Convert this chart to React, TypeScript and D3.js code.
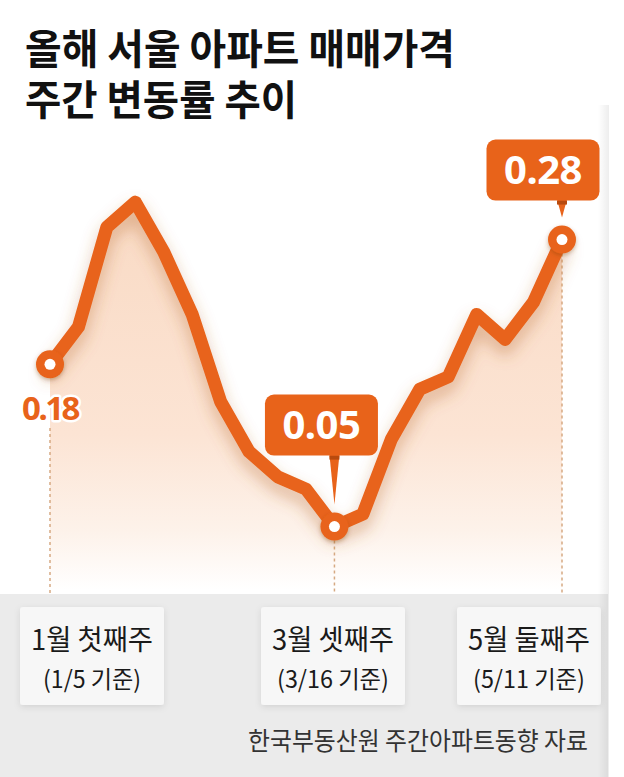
import React from 'react';
import * as d3 from 'd3';

// weekly change of Seoul apartment sale prices (%)
const weeks = ['1/5', '1/12', '1/19', '1/26', '2/2', '2/9', '2/16', '2/23', '3/2', '3/9', '3/16', '3/23', '3/30', '4/6', '4/13', '4/20', '4/27', '5/4', '5/11'];
const changes = [0.18, 0.21, 0.29, 0.31, 0.27, 0.22, 0.15, 0.11, 0.09, 0.08, 0.05, 0.06, 0.12, 0.16, 0.17, 0.22, 0.2, 0.23, 0.28];

const titleLines = ['올해 서울 아파트 매매가격', '주간 변동률 추이'];
const markedWeeks = ['1/5', '3/16', '5/11'];
const weekLabels = ['1월 첫째주', '3월 셋째주', '5월 둘째주'];
const weekSubLabels = ['(1/5 기준)', '(3/16 기준)', '(5/11 기준)'];
const source = '한국부동산원 주간아파트동향 자료';

const W = 624;
const H = 777;
const ORANGE = '#e8631a';
const KR = '"Noto Sans CJK KR", "Noto Sans", sans-serif';

const x = d3.scalePoint<string>().domain(weeks).range([50, 562]);
const y = d3.scaleLinear().domain([0, 0.3]).range([589, 214.6]);

const pts = weeks.map((w, i) => [x(w)!, y(changes[i])] as [number, number]);
const line = d3.line().curve(d3.curveLinear)(pts)!;
const area = d3.area().x((d) => d[0]).y0(y(0)).y1((d) => d[1])(pts)!;

// bottom label boxes (centre x)
const boxCx = [92, 333, 529];
// callouts: box left shift and gap between box and point
const callouts = [
  { idx: 10, dx: -13, gap: 71 },
  { idx: 18, dx: -19, gap: 39 },
];

export default function App() {
  const bandTop = 594;
  return (
    <svg width={W} height={H} viewBox={`0 0 ${W} ${H}`} style={{ position: 'absolute', left: 0, top: 0, display: 'block' }}>
      <defs>
        <linearGradient id="areaGrad" gradientUnits="userSpaceOnUse" x1="0" y1="200" x2="0" y2="590">
          <stop offset="0" stopColor="#f9dac4" />
          <stop offset="0.6" stopColor="#fce4d4" />
          <stop offset="0.85" stopColor="#fdf2ea" />
          <stop offset="1" stopColor="#ffffff" />
        </linearGradient>
        <linearGradient id="panelShade" x1="0" x2="1" y1="0" y2="0">
          <stop offset="0" stopColor="#000" stopOpacity="0" />
          <stop offset="1" stopColor="#000" stopOpacity="0.07" />
        </linearGradient>
        <filter id="lineShadow" x="-10%" y="-20%" width="120%" height="140%">
          <feDropShadow dx="0" dy="9" stdDeviation="8" floodColor="#b5682f" floodOpacity="0.42" />
        </filter>
        <filter id="boxShadow" x="-20%" y="-20%" width="140%" height="150%">
          <feDropShadow dx="0" dy="2" stdDeviation="3" floodColor="#000" floodOpacity="0.1" />
        </filter>
        <filter id="dotShadow" x="-50%" y="-50%" width="200%" height="200%">
          <feDropShadow dx="0" dy="2" stdDeviation="2" floodColor="#7a3a10" floodOpacity="0.35" />
        </filter>
      </defs>

      <rect x={0} y={0} width={W} height={H} fill="#ffffff" />

      {/* title */}
      {titleLines.map((t, i) => (
        <text
          key={t}
          x={25}
          y={64 + i * 51}
          fontFamily={KR}
          fontWeight={700}
          fontSize={41}
          fill="#111"
          textLength={i === 0 ? 430 : 272}
          lengthAdjust="spacingAndGlyphs"
        >
          {t}
        </text>
      ))}

      {/* area + line */}
      <path d={area} fill="url(#areaGrad)" />

      {/* dashed guides */}
      {markedWeeks.map((w, i) => {
        const idx = weeks.indexOf(w);
        const top = i === 0 ? 428 : y(changes[idx]) + 14;
        return (
          <line key={w} x1={x(w)} x2={x(w)} y1={top} y2={bandTop} stroke="#d6a982" strokeWidth={1.5} strokeDasharray="3 3" />
        );
      })}

      <path d={line} fill="none" stroke={ORANGE} strokeWidth={13} strokeLinejoin="round" strokeLinecap="round" filter="url(#lineShadow)" />

      {/* dots */}
      {markedWeeks.map((w) => {
        const idx = weeks.indexOf(w);
        return (
          <g key={w} filter="url(#dotShadow)">
            <circle cx={x(w)} cy={y(changes[idx])} r={14} fill={ORANGE} />
            <circle cx={x(w)} cy={y(changes[idx])} r={5.5} fill="#fff" />
          </g>
        );
      })}

      {/* first value label */}
      <text
        x={x(weeks[0])}
        y={420}
        textAnchor="middle"
        fontFamily='"Noto Sans", sans-serif'
        fontWeight={700}
        fontSize={33}
        letterSpacing={-2.5}
        fill={ORANGE}
        stroke="#fff"
        strokeWidth={5}
        strokeLinejoin="round"
        paintOrder="stroke"
      >
        {changes[0].toFixed(2)}
      </text>

      {/* callouts */}
      {callouts.map((c) => {
        const px = x(weeks[c.idx])!;
        const py = y(changes[c.idx]);
        const bw = 113;
        const bh = 61;
        const bx = px - bw / 2 + c.dx;
        const by = py - c.gap - bh;
        const tip = py - 22;
        const bottom = by + bh;
        return (
          <g key={c.idx}>
            <path d={`M${px - 5},${bottom - 1} L${px + 5},${bottom - 1} L${px},${tip} Z`} fill={ORANGE} />
            <rect x={px - 5} y={bottom} width={10} height={4} fill="#b84a0e" />
            <rect x={bx} y={by} width={bw} height={bh} rx={9} fill={ORANGE} />
            <text
              x={bx + bw / 2}
              y={by + 44}
              textAnchor="middle"
              fontFamily='"Noto Sans", sans-serif'
              fontWeight={700}
              fontSize={40}
              letterSpacing={-0.5}
              fill="#fff"
            >
              {changes[c.idx].toFixed(2)}
            </text>
          </g>
        );
      })}

      {/* bottom band */}
      <rect x={0} y={bandTop} width={608} height={H - bandTop} fill="#ebebeb" />
      {weekLabels.map((t, i) => (
        <g key={t}>
          <rect x={boxCx[i] - 72} y={607} width={144} height={98} rx={3} fill="#f7f7f7" filter="url(#boxShadow)" />
          <text x={boxCx[i]} y={650} textAnchor="middle" fontFamily={KR} fontSize={28} fill="#1a1a1a" textLength={122} lengthAdjust="spacingAndGlyphs">
            {t}
          </text>
          <text x={boxCx[i]} y={688} textAnchor="middle" fontFamily={KR} fontSize={24} fill="#1a1a1a" textLength={i === 0 ? 98 : 112} lengthAdjust="spacingAndGlyphs">
            {weekSubLabels[i]}
          </text>
        </g>
      ))}
      <text x={588} y={750} textAnchor="end" fontFamily={KR} fontSize={25} fill="#333" textLength={340} lengthAdjust="spacingAndGlyphs">
        {source}
      </text>

      {/* right side panel */}
      <rect x={598} y={105} width={11} height={H - 105} fill="url(#panelShade)" />
      <path d={`M609,${H} L609,121 Q609,105 625,105 L${W},105 L${W},${H} Z`} fill="#ffffff" />
    </svg>
  );
}
